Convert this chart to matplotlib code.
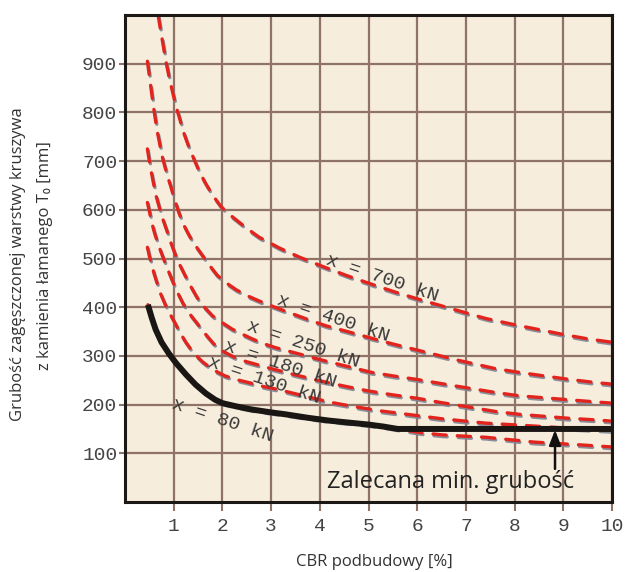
import matplotlib
matplotlib.use('Agg')
import matplotlib.pyplot as plt
import matplotlib.patheffects as pe

plt.rcParams['lines.scale_dashes'] = False

# ---- data ----
x_700 = [0.68, 0.72, 0.78, 0.84, 0.90, 0.97, 1.04, 1.12, 1.2, 1.3, 1.4, 1.52, 1.65, 1.8, 1.96,
         2.1, 2.3, 2.5, 2.75, 3.16, 3.6, 4.05, 4.55, 5.07, 5.55, 6.04, 6.7, 7.4, 8.0, 8.5, 9.0, 9.5, 10.0]
y_700 = [1000, 975, 940, 905, 875, 845, 815, 788, 760, 732, 708, 680, 655, 630, 608,
         594, 578, 562, 544, 522, 502, 484, 465, 447, 431, 416, 397, 377, 364, 354, 344, 335, 328]

x_400 = [0.46, 0.50, 0.54, 0.58, 0.62, 0.66, 0.71, 0.75, 0.81, 0.87, 0.94, 1.0, 1.1, 1.2, 1.32,
         1.45, 1.6, 1.75, 1.89, 2.05, 2.28, 2.5, 2.75, 3.05, 3.37, 3.75, 4.12, 4.53, 5.0, 5.48,
         6.04, 6.8, 7.6, 8.1, 8.6, 9.1, 9.6, 10.0]
y_400 = [905, 875, 845, 815, 788, 762, 737, 715, 692, 670, 648, 627, 596, 570, 547,
         526, 505, 484, 466, 452, 436, 424, 413, 401, 389, 375, 362, 351, 338, 325,
         311, 292, 274, 266, 259, 252, 246, 242]

x_250 = [0.46, 0.50, 0.54, 0.58, 0.64, 0.71, 0.78, 0.86, 0.94, 1.03, 1.13, 1.24, 1.36, 1.48,
         1.63, 1.8, 2.0, 2.2, 2.4, 2.61, 2.85, 3.09, 3.5, 3.98, 4.5, 5.07, 5.5, 5.97, 6.8,
         7.6, 8.1, 8.6, 9.1, 9.6, 10.0]
y_250 = [725, 700, 678, 657, 628, 603, 580, 557, 533, 509, 486, 464, 441, 420,
         400, 382, 368, 355, 345, 335, 325, 317, 306, 293, 280, 266, 259, 252, 238,
         225, 218, 214, 210, 206, 203]

x_180 = [0.46, 0.50, 0.54, 0.58, 0.62, 0.70, 0.79, 0.88, 0.97, 1.08, 1.19, 1.33, 1.48, 1.65,
         1.82, 2.0, 2.25, 2.5, 2.75, 3.0, 3.5, 4.0, 4.5, 5.0, 5.5, 6.0, 6.5, 7.0, 7.6, 8.1,
         8.6, 9.1, 9.6, 10.0]
y_180 = [615, 597, 578, 562, 548, 524, 500, 477, 455, 430, 408, 386, 367, 345,
         325, 310, 297, 288, 281, 274, 261, 249, 238, 228, 220, 213, 204, 196, 186, 180,
         176, 172, 169, 166]

x_130 = [0.46, 0.50, 0.55, 0.60, 0.65, 0.73, 0.82, 0.92, 1.03, 1.14, 1.25, 1.4, 1.59, 1.8,
         2.05, 2.3, 2.55, 2.8, 3.1, 3.55, 4.2, 4.7, 5.25, 5.8, 6.5, 7.0, 7.4, 7.9, 8.4, 9.2, 10.0]
y_130 = [523, 505, 487, 468, 452, 428, 407, 387, 367, 346, 328, 307, 288, 272,
         259, 251, 245, 238, 232, 221, 205, 196, 187, 180, 171, 166, 162, 159, 156, 151, 147]

x_80 = [0.47, 0.55, 0.63, 0.75, 0.9, 1.05, 1.25, 1.45, 1.66, 1.85, 2.0, 2.3, 2.6, 3.0, 3.3,
        3.75, 4.2, 4.6, 5.0, 5.3, 5.6, 6.1, 6.5, 7.0, 7.4, 7.9, 8.4, 8.9, 9.4, 10.0]
y_80 = [405, 378, 354, 328, 305, 285, 262, 241, 223, 210, 203, 196, 190, 184, 180,
        173, 167, 163, 159, 155, 150, 142, 138, 135, 133, 128, 123, 120, 117, 113]

x_min = [0.47, 0.55, 0.63, 0.75, 0.9, 1.05, 1.25, 1.45, 1.66, 1.85, 2.0, 2.3, 2.6, 3.0, 3.3,
         3.75, 4.2, 4.6, 5.0, 5.3, 5.6, 10.0]
y_min = [405, 378, 354, 328, 305, 285, 262, 241, 223, 210, 203, 196, 190, 184, 180,
         173, 167, 163, 159, 155, 150, 150]

curve_labels = ['x = 700 kN', 'x = 400 kN', 'x = 250 kN', 'x = 180 kN', 'x = 130 kN', 'x = 80 kN']
label_x = [5.27, 4.27, 3.66, 3.18, 2.85, 2.0]
label_y = [460, 378, 324, 283, 250, 168]

x_ticks = [1, 2, 3, 4, 5, 6, 7, 8, 9, 10]
y_ticks = [100, 200, 300, 400, 500, 600, 700, 800, 900]

# ---- figure ----
fig = plt.figure(figsize=(6.25, 5.72), dpi=100)
ax = fig.add_axes([125 / 625, 1 - 502 / 572, 487 / 625, 487 / 572])
ax.set_xlim(0, 10)
ax.set_ylim(0, 1000)
ax.set_facecolor('#f6eddc')

gridc = '#8f7367'
ax.set_xticks(x_ticks)
ax.set_yticks(y_ticks)
ax.set_xticklabels([str(t) for t in x_ticks])
ax.set_yticklabels([str(t) for t in y_ticks])
ax.grid(True, color=gridc, lw=1.6)
ax.set_axisbelow(True)
ax.tick_params(axis='x', length=6.5, width=1.5, color=gridc, pad=5, labelcolor='#444444')
ax.tick_params(axis='y', length=4.5, width=1.5, color=gridc, pad=1, labelcolor='#444444')
for lab in ax.get_xticklabels() + ax.get_yticklabels():
    lab.set_family('Liberation Mono')
    lab.set_fontsize(14)
for s in ax.spines.values():
    s.set_linewidth(2.2)
    s.set_color('#1c1816')
    s.set_zorder(10)

shadow = [pe.SimpleLineShadow(offset=(0.7, -1.3), shadow_color='#7c8594', alpha=0.9, rho=1.0),
          pe.Normal()]

series = [(x_700, y_700), (x_400, y_400), (x_250, y_250), (x_180, y_180), (x_130, y_130), (x_80, y_80)]
for xs, ys in series:
    ax.plot(xs, ys, color='#e2241e', lw=2.4, dashes=(9.5, 8.0), dash_capstyle='round',
            path_effects=shadow, zorder=3)

ax.plot(x_min, y_min, color='#1a1614', lw=4.3, solid_capstyle='butt', zorder=5)

for t, lx, ly in zip(curve_labels, label_x, label_y):
    ax.text(lx, ly, t, family='Liberation Mono', fontsize=14, color='#3a3a3a',
            rotation=-18.5, rotation_mode='anchor', ha='center', va='center', zorder=6)

ax.annotate('', xy=(8.83, 148), xytext=(8.83, 68),
            arrowprops=dict(arrowstyle='-|>,head_length=0.9,head_width=0.35', color='#111111',
                            lw=1.8, shrinkA=0, shrinkB=0), zorder=7)
ax.text(6.68, 28, 'Zalecana min. grubość', ha='center', va='baseline', fontsize=17,
        family=['Open Sans', 'DejaVu Sans'], color='#222222', zorder=7)

fig.text(18 / 625, 1 - 264 / 572, 'Grubość zagęszczonej warstwy kruszywa', rotation=90,
         ha='center', va='center', fontsize=12, family=['Open Sans', 'DejaVu Sans'], color='#333333')
fig.text(45 / 625, 1 - 256 / 572, 'z kamienia łamanego T₀ [mm]', rotation=90,
         ha='center', va='center', fontsize=12, family=['Open Sans', 'DejaVu Sans'], color='#333333')
fig.text(374 / 625, 1 - 562 / 572, 'CBR podbudowy [%]', ha='center', va='center', fontsize=12,
         family=['Open Sans', 'DejaVu Sans'], color='#333333')

fig.savefig('out.png', dpi=100, facecolor='white')
